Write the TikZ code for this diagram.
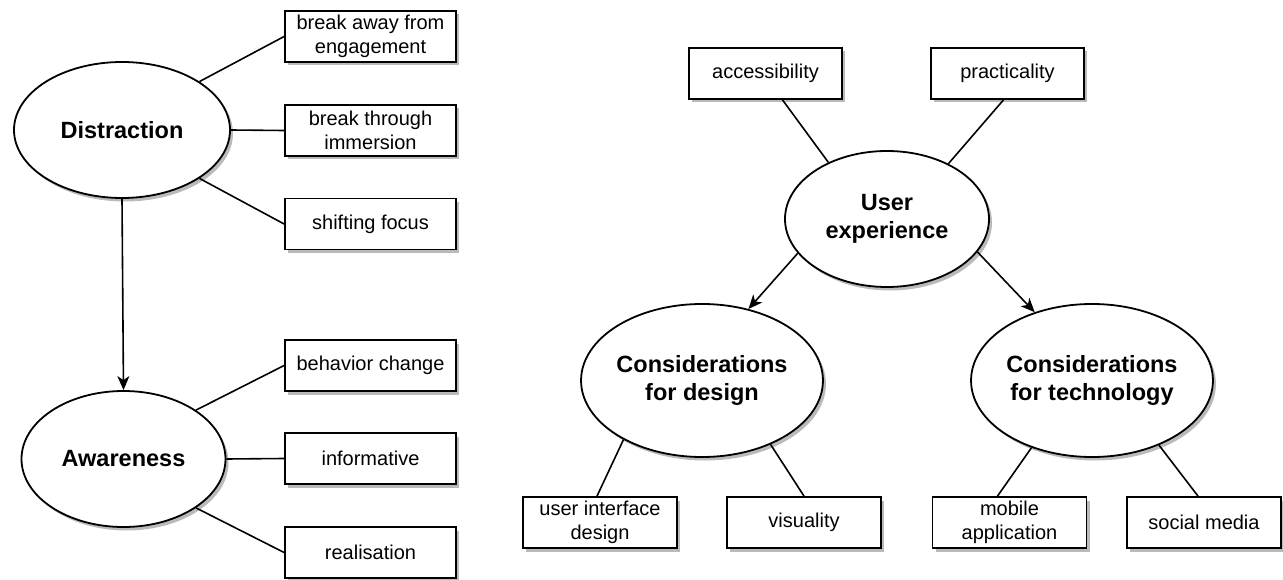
\documentclass[tikz,border=0pt]{standalone}
\usepackage{fontspec}
\setmainfont{Liberation Sans}
\usetikzlibrary{shapes.geometric,shadows,arrows.meta}
\begin{document}
\begin{tikzpicture}[x=1pt,y=-1pt,
  shad/.style={drop shadow={shadow xshift=3pt,shadow yshift=-3.5pt,opacity=0.45,fill=black!60}},
  bub/.style={ellipse,draw,line width=1.8pt,fill=white,shad,inner sep=0pt,align=center,
    font=\fontsize{23.5}{28}\selectfont\bfseries},
  leaf/.style={rectangle,draw,line width=1.8pt,fill=white,shad,inner sep=0pt,align=center,
    minimum height=51pt,font=\fontsize{20}{24}\selectfont},
  link/.style={line width=1.6pt},
  arr/.style={line width=1.6pt,-{Stealth[length=14pt,width=12pt,inset=4pt]}}]
\useasboundingbox (0,0) rectangle (1283,580);
% left
\node[bub,minimum width=216pt,minimum height=136pt] (D) at (122,130) {Distraction};
\node[bub,minimum width=204pt,minimum height=136pt] (A) at (123.5,459) {Awareness};
\node[leaf,minimum width=171pt] (b1) at (370.5,36.5) {break away from\\engagement};
\node[leaf,minimum width=171pt] (b2) at (370.5,130.5) {break through\\immersion};
\node[leaf,minimum width=171pt] (b3) at (370.5,224) {shifting focus};
\node[leaf,minimum width=171pt] (b4) at (370.5,365.5) {behavior change};
\node[leaf,minimum width=171pt] (b5) at (370.5,458.5) {informative};
\node[leaf,minimum width=171pt] (b6) at (370.5,552.5) {realisation};
\draw[link] (D.32.5) -- (b1.west);
\draw[link] (D.east) -- (b2.west);
\draw[link] (D.-32.5) -- (b3.west);
\draw[link] (A.34) -- (b4.west);
\draw[link] (A.east) -- (b5.west);
\draw[link] (A.-34) -- (b6.west);
\draw[arr] (D.south) -- (A.north);
% right
\node[bub,minimum width=204pt,minimum height=136pt] (UX) at (887,219) {User\\experience};
\node[bub,minimum width=206pt,minimum height=153pt] (Des) at (702,380.5) {Considerations\\for design};
\node[bub,minimum width=206pt,minimum height=153pt] (Tec) at (1092,380.5) {Considerations\\for technology};
\node[leaf,minimum width=153pt] (acc) at (765.5,73.5) {accessibility};
\node[leaf,minimum width=153pt] (pra) at (1007.5,73.5) {practicality};
\node[leaf,minimum width=154pt] (uid) at (600,522.5) {user interface\\design};
\node[leaf,minimum width=154pt] (vis) at (804,522.5) {visuality};
\node[leaf,minimum width=154pt] (mob) at (1009.5,522.5) {mobile\\application};
\node[leaf,minimum width=154pt] (soc) at (1204,522.5) {social media};
\draw[link] ([xshift=17pt]acc.south) -- (UX.136);
\draw[link] ([xshift=-4pt]pra.south) -- (UX.42);
\draw[arr] (UX.201) -- (Des.57);
\draw[arr] (UX.-20) -- (Tec.130);
\draw[link] (Des.217) -- ([xshift=-3pt]uid.north);
\draw[link] (Des.317) -- (vis.north);
\draw[link] (Tec.228) -- ([xshift=-12pt]mob.north);
\draw[link] (Tec.316) -- ([xshift=-6pt]soc.north);
\end{tikzpicture}
\end{document}
